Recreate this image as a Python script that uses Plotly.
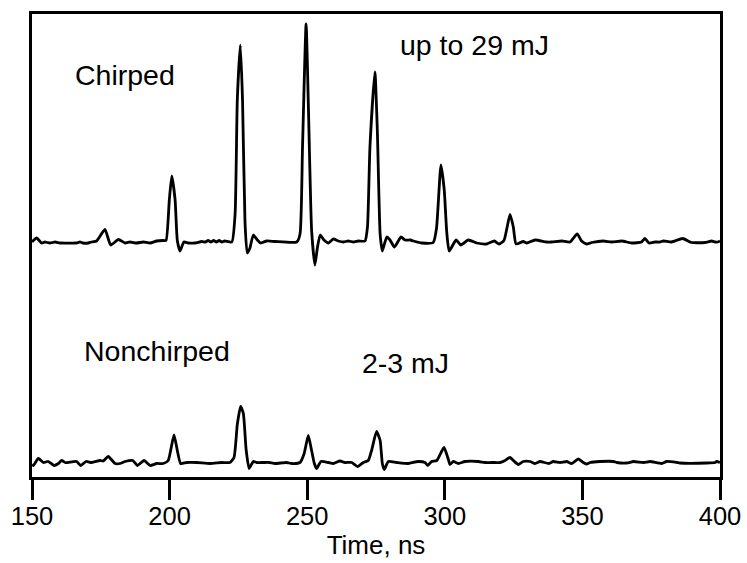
import plotly.graph_objects as go

# Oscilloscope traces of the pulse train (arbitrary units, baseline = 0)
chirped_t = [150.0, 150.7, 151.7, 153.5, 154.7, 156.5, 158.4, 160.2, 166.2, 167.4, 168.5, 170.5,
             171.5, 173.5, 176.5, 178.6, 181.4, 183.8, 185.6, 188.0, 190.4, 192.9, 195.3, 197.7,
             198.7, 199.9, 200.8, 202.0, 202.8, 203.8, 205.2, 206.8, 209.2, 211.7, 213.0, 214.0,
             215.0, 216.0, 217.0, 218.0, 219.0, 220.0, 222.6, 223.8, 224.6, 225.7, 226.5, 227.4,
             228.2, 229.2, 230.4, 231.9, 233.1, 235.3, 238.3, 246.2, 247.4, 248.3, 249.6, 250.5,
             251.6, 252.8, 253.7, 254.7, 256.1, 257.7, 259.5, 261.3, 263.1, 264.9, 266.8, 268.6,
             271.0, 271.9, 272.8, 274.6, 275.5, 276.5, 277.3, 278.9, 280.1, 281.7, 284.1, 285.5,
             287.4, 289.2, 291.6, 295.8, 297.0, 298.6, 299.8, 300.7, 301.6, 304.1, 305.8, 308.5,
             311.6, 315.2, 318.0, 319.7, 321.5, 323.7, 324.9, 325.9, 328.5, 329.8, 332.8, 337.0,
             338.8, 342.5, 345.5, 348.1, 349.7, 351.5, 353.4, 357.6, 360.6, 364.3, 367.9, 371.5,
             372.7, 374.2, 376.4, 378.2, 379.4, 382.4, 386.4, 389.7, 394.5, 397.0, 398.2, 399.2,
             400.0]
chirped_v = [0, 2, 4, -1, 0, -1, 0, -1, -1, 0, -1, -1,
             0, 1, 12.5, -3, 2.5, -1, 0, -1, 0, -1, 1, 1.5,
             1.5, 42, 66, 42, 1.5, -9, 0, -1, -1, 0.5, 0, 1.5,
             0, 1.5, 0, 1.5, 0, 1, 0, 28, 142, 197, 142, 20,
             -11, -6, 7, 2, -1, 1, 0.5, 0, 8, 95, 218, 128,
             12, -23, -6, 7, 2, -1, 3, 1, 0, 1, 0, 1,
             1, 15, 95, 170, 110, 8, -9, 5, 2, -5, 5, 2,
             2, 0.5, -1, -0.5, 14, 77, 52, 10, -9, 2, -3, 2,
             -1, -2, 1, -2, 1.5, 27.5, 15, -2, 0.5, -1, 2, 0,
             0, 1, 0, 8, 1, -2, -0.5, 1, 0, 1, -1, 0,
             3.5, -1, 0, 0, 1, 0, 3.5, -0.5, -0.5, 1, 0, 0,
             1]

nonchirped_t = [150.0, 150.5, 152.3, 154.1, 155.9, 158.0, 159.6, 160.8, 162.0, 166.2, 167.7, 169.6,
                171.7, 174.7, 175.9, 177.7, 180.2, 182.0, 183.8, 186.6, 188.3, 190.7, 192.9, 195.3,
                197.7, 199.5, 201.6, 202.8, 204.0, 206.2, 209.8, 214.7, 218.9, 221.9, 223.4, 224.6,
                225.8, 226.8, 227.8, 228.9, 230.4, 231.6, 234.1, 236.2, 238.3, 242.5, 244.4, 247.4,
                248.9, 250.4, 251.6, 252.6, 253.4, 255.0, 257.7, 259.5, 261.9, 263.7, 266.2, 268.3,
                270.4, 272.2, 273.4, 275.2, 276.5, 277.3, 278.0, 279.5, 282.5, 286.7, 290.3, 292.8,
                293.8, 295.2, 297.1, 299.7, 301.3, 301.9, 303.1, 304.9, 307.3, 312.2, 314.6, 318.2,
                320.1, 321.9, 323.7, 325.1, 326.7, 328.5, 331.0, 332.8, 334.6, 337.8, 339.4, 341.9,
                344.3, 346.1, 348.5, 350.3, 351.5, 352.8, 356.4, 361.3, 362.5, 366.1, 368.6, 372.2,
                374.6, 378.8, 380.6, 384.3, 385.4, 395.2, 398.2, 398.8, 400.0]
nonchirped_v = [-2, -3, 4, 0, 1, -3, -1, 2, 0, 1, -3, 1,
                0, 2, 1.5, 6, -1, -1, 1, 2, -3, 2, -3, -1,
                -1, 2, 27.5, 12, -1, 0, 0, -1, 0, 0, 5, 38,
                56, 49, 13, -6, 1, 0, 0, 0, -1, 0, -1, 0,
                9, 27, 12, -1, -6, 1, 0, -1, 1.5, 0, 0, -4,
                0, 2, 12, 31, 22, -1, -7, 1, 0, -1, 1, 0,
                -3, 1, 2, 15, 3, -2, 1, -1, 1, 1, 0, 0,
                0, 2, 5, 1.5, -2, 1, 1, -1, 1, -1, 1, 0,
                1, -1, 3.5, 0, -1.5, 0, 1, 1, 0, -0.5, 1, 0,
                1, -1, 1, 0, -0.5, -0.5, 0, 1, 0]

# Vertical offsets used to stack the two traces
chirped_offset = 235
nonchirped_offset = 14.5

x_ticks = [150, 200, 250, 300, 350, 400]

labels = [
    ("Chirped", 165.0, 402),
    ("up to 29 mJ", 283.0, 432),
    ("Nonchirped", 168.0, 126),
    ("2-3 mJ", 269.2, 114.5),
]

FONT = "Liberation Sans, Arial, sans-serif"
LINE = dict(color="black", width=2.8, shape="spline", smoothing=0.5)

fig = go.Figure()
fig.add_trace(go.Scatter(
    x=chirped_t, y=[v + chirped_offset for v in chirped_v],
    mode="lines", line=LINE, showlegend=False,
))
fig.add_trace(go.Scatter(
    x=nonchirped_t, y=[v + nonchirped_offset for v in nonchirped_v],
    mode="lines", line=LINE, showlegend=False,
))

for text, xv, yv in labels:
    fig.add_annotation(x=xv, y=yv, text=text, showarrow=False,
                       xanchor="left", yanchor="middle",
                       font=dict(family=FONT, size=28.5, color="black"))

fig.update_layout(
    width=747, height=563,
    margin=dict(l=32, r=27, t=14, b=86),
    paper_bgcolor="white", plot_bgcolor="white",
    font=dict(family=FONT, color="black"),
)
fig.update_xaxes(
    range=[150, 400], tickvals=x_ticks, ticktext=[str(t) for t in x_ticks],
    automargin=False,
    showline=True, linecolor="black", linewidth=3, mirror=True,
    ticks="outside", ticklen=20, tickwidth=3, tickcolor="black",
    ticklabelstandoff=-6,
    tickfont=dict(family=FONT, size=25.5, color="black"),
    showgrid=False, zeroline=False,
    title=dict(text="Time, ns", font=dict(family=FONT, size=26, color="black"), standoff=6),
)
fig.update_yaxes(
    range=[0, 463], showticklabels=False, ticks="", automargin=False,
    showline=True, linecolor="black", linewidth=3, mirror=True,
    showgrid=False, zeroline=False,
)

fig.write_html("out.html")
